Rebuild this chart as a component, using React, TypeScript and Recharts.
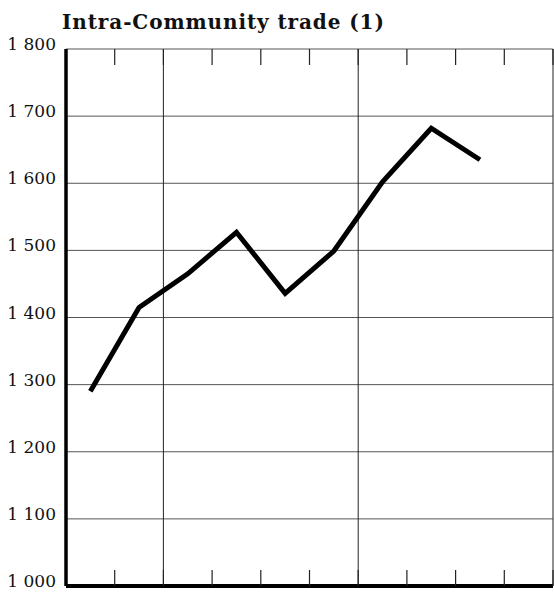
import {
  CartesianGrid,
  Line,
  LineChart,
  ReferenceLine,
  XAxis,
  YAxis,
} from "recharts";

// half-period positions (centre of each interval)
const periods = [0.5, 1.5, 2.5, 3.5, 4.5, 5.5, 6.5, 7.5, 8.5];
const trade = [1290, 1415, 1465, 1527, 1436, 1499, 1602, 1682, 1635];
const yTicks = [1000, 1100, 1200, 1300, 1400, 1500, 1600, 1700, 1800];
const xTicks = [0, 1, 2, 3, 4, 5, 6, 7, 8, 9, 10];
const fullLines = [2, 6, 10];

const data = periods.map((p, i) => ({ p, value: trade[i] }));

const fmt = (v: number) => {
  const s = String(v);
  return s.length > 3 ? s.slice(0, s.length - 3) + " " + s.slice(-3) : s;
};

const YTick = (props: any) => {
  const { x, y, payload } = props;
  return (
    <text
      x={x}
      y={y + 1}
      textAnchor="end"
      fontFamily="'DejaVu Serif', serif"
      fontSize={17}
      fill="#111"
    >
      {fmt(payload.value)}
    </text>
  );
};

export default function App() {
  return (
    <div
      style={{
        position: "absolute",
        left: 0,
        top: 0,
        width: 554,
        height: 592,
        background: "#fff",
      }}
    >
      <div
        style={{
          position: "absolute",
          left: 62,
          top: 10,
          fontFamily: "'DejaVu Serif', serif",
          fontWeight: "bold",
          fontSize: 20,
          letterSpacing: 0.9,
          color: "#111",
          whiteSpace: "nowrap",
        }}
      >
        Intra-Community trade (1)
      </div>
      <LineChart
        width={554}
        height={592}
        data={data}
        margin={{ top: 49, right: 1, bottom: 6, left: 0 }}
      >
        <CartesianGrid vertical={false} stroke="#555" strokeWidth={1} />
        <XAxis
          type="number"
          dataKey="p"
          domain={[0, 10]}
          ticks={xTicks}
          interval={0}
          mirror
          tickSize={16}
          tickFormatter={() => ""}
          axisLine={{ stroke: "#000", strokeWidth: 4 }}
          tickLine={{ stroke: "#222", strokeWidth: 1.2 }}
        />
        <XAxis
          xAxisId="top"
          orientation="top"
          type="number"
          dataKey="p"
          domain={[0, 10]}
          ticks={xTicks}
          interval={0}
          mirror
          tickSize={16}
          tickFormatter={() => ""}
          axisLine={false}
          tickLine={{ stroke: "#222", strokeWidth: 1.2 }}
        />
        <YAxis
          type="number"
          domain={[1000, 1800]}
          ticks={yTicks}
          interval={0}
          width={66}
          tickLine={false}
          tickMargin={4}
          axisLine={{ stroke: "#000", strokeWidth: 3.5 }}
          tick={<YTick />}
        />
        {fullLines.map((x) => (
          <ReferenceLine key={x} x={x} stroke="#222" strokeWidth={1} />
        ))}
        <Line
          type="linear"
          dataKey="value"
          stroke="#000"
          strokeWidth={5}
          dot={false}
          isAnimationActive={false}
        />
      </LineChart>
    </div>
  );
}
